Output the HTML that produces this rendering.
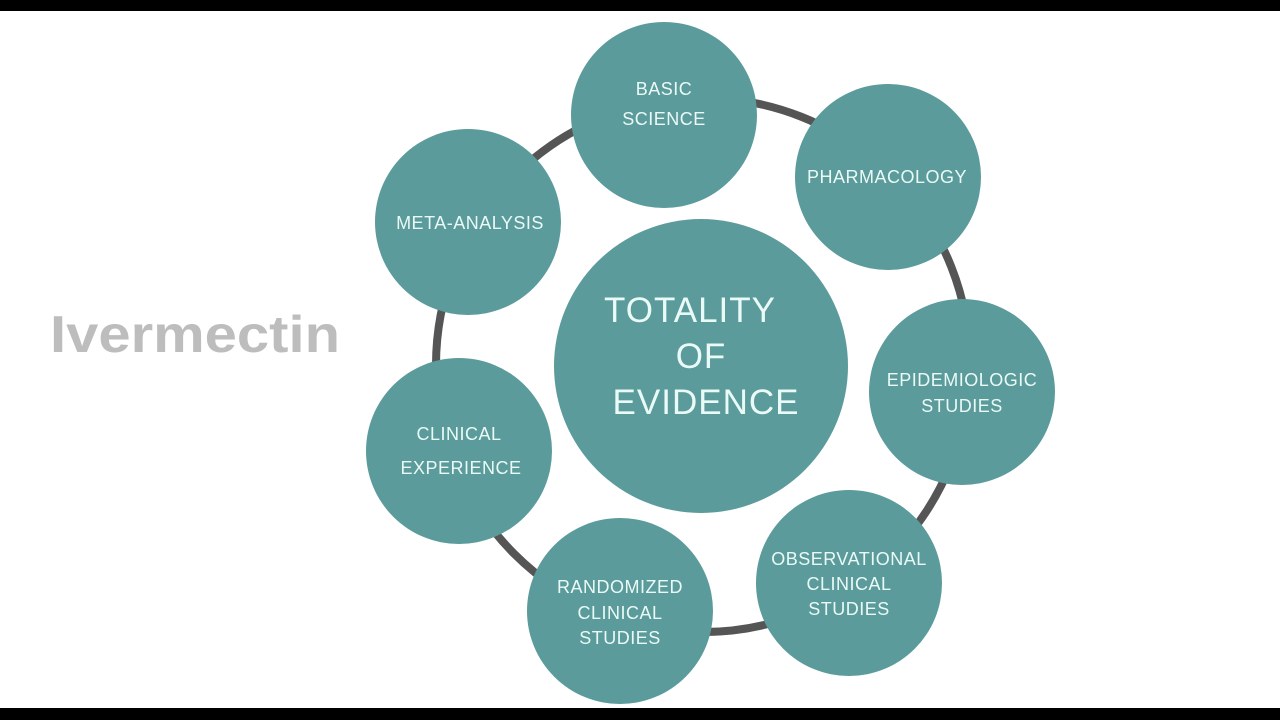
<!DOCTYPE html>
<html><head><meta charset="utf-8"><style>
html,body{margin:0;padding:0;background:#fff;}
body{width:1280px;height:720px;overflow:hidden;position:relative;}
</style></head><body>
<svg width="1280" height="720" viewBox="0 0 1280 720" xmlns="http://www.w3.org/2000/svg" style="position:absolute;left:0;top:0">
<rect x="0" y="0" width="1280" height="11" fill="#000"/>
<rect x="0" y="708" width="1280" height="12" fill="#000"/>
<circle cx="703" cy="365" r="267" fill="none" stroke="#555" stroke-width="8"/>
<g fill="#5b9b9b">
<circle cx="701" cy="366" r="147"/>
<circle cx="664" cy="115" r="93"/>
<circle cx="888" cy="177" r="93"/>
<circle cx="962" cy="392" r="93"/>
<circle cx="849" cy="583" r="93"/>
<circle cx="620" cy="611" r="93"/>
<circle cx="459" cy="451" r="93"/>
<circle cx="468" cy="222" r="93"/>
</g>
<g fill="#eafaf6" font-family="Liberation Sans, sans-serif" text-anchor="middle">
<g font-size="35" letter-spacing="1">
<text x="690" y="322">TOTALITY</text>
<text x="701" y="368">OF</text>
<text x="706" y="414">EVIDENCE</text>
</g>
<g font-size="18" letter-spacing="0.5">
<text x="664" y="95">BASIC</text>
<text x="664" y="125">SCIENCE</text>
<text x="887" y="183">PHARMACOLOGY</text>
<text x="962" y="386">EPIDEMIOLOGIC</text>
<text x="962" y="412">STUDIES</text>
<text x="849" y="565">OBSERVATIONAL</text>
<text x="849" y="590">CLINICAL</text>
<text x="849" y="615">STUDIES</text>
<text x="620" y="593">RANDOMIZED</text>
<text x="620" y="619">CLINICAL</text>
<text x="620" y="644">STUDIES</text>
<text x="459" y="440">CLINICAL</text>
<text x="461" y="474">EXPERIENCE</text>
<text x="470" y="229">META-ANALYSIS</text>
</g>
</g>
<text x="50" y="352" font-family="Liberation Sans, sans-serif" font-weight="bold" font-size="52" fill="#bdbdbd" textLength="290" lengthAdjust="spacingAndGlyphs">Ivermectin</text>
</svg>
</body></html>
